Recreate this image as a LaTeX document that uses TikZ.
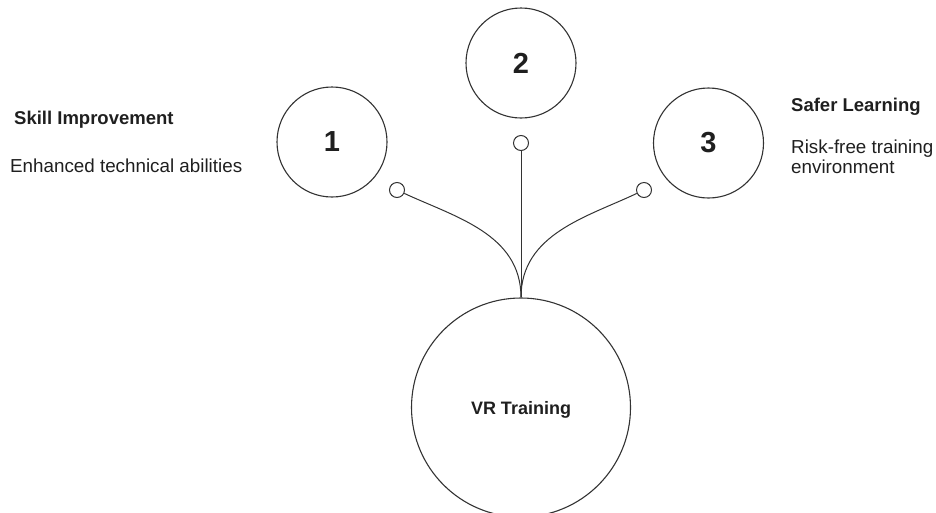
\documentclass[tikz,border=0pt]{standalone}
\usepackage{fontspec}
\setmainfont{Liberation Sans}
\definecolor{mgray}{rgb}{0.2, 0.2, 0.2}
\definecolor{mink}{rgb}{0.12, 0.12, 0.12}
\tikzset{bubble/.style = {draw = mgray, line width = 1.1, circle, inner sep = 0, minimum size = 110, text = mink}}
\tikzset{num/.style = {font = \fontsize{29}{30}\selectfont\bfseries}}
\tikzset{knob/.style = {draw = mgray, fill = white, line width = 1, circle, inner sep = 0, minimum size = 15}}
\tikzset{wire/.style = {draw = mgray, line width = 1}}
\tikzset{head/.style = {text = mink, font = \fontsize{18.5}{20}\selectfont\bfseries, inner sep = 0, anchor = base west}}
\tikzset{desc/.style = {text = mink, font = \fontsize{18.8}{20}\selectfont, inner sep = 0, anchor = base west}}

\begin{document}
\begin{tikzpicture}[x = 1pt, y = -1pt]
  \useasboundingbox (0, 0) rectangle (936, 512);

  \node (vr) [bubble, minimum size = 219, text depth = 0, font = \fontsize{18}{20}\selectfont\bfseries] at (521, 407.5) {VR Training};
  \node (c1) [bubble, num] at (332, 142) {1};
  \node (c2) [bubble, num] at (521, 63) {2};
  \node (c3) [bubble, num] at (708.5, 143) {3};

  \node (k1) [knob] at (397, 190) {};
  \node (k2) [knob] at (521, 143) {};
  \node (k3) [knob] at (644, 190) {};

  \draw [wire] (k1) .. controls (455, 217) and (521, 234) .. (vr.north);
  \draw [wire] (k2) -- (vr.north);
  \draw [wire] (k3) .. controls (587, 217) and (521, 234) .. (vr.north);

  \node (h1) [head] at (14, 124) {Skill Improvement};
  \node (d1) [desc] at (10, 172) {Enhanced technical abilities};
  \node (h3) [head] at (791, 111) {Safer Learning};
  \node (d3a) [desc] at (791, 153) {Risk-free training};
  \node (d3b) [desc] at (791, 173) {environment};
\end{tikzpicture}
\end{document}
